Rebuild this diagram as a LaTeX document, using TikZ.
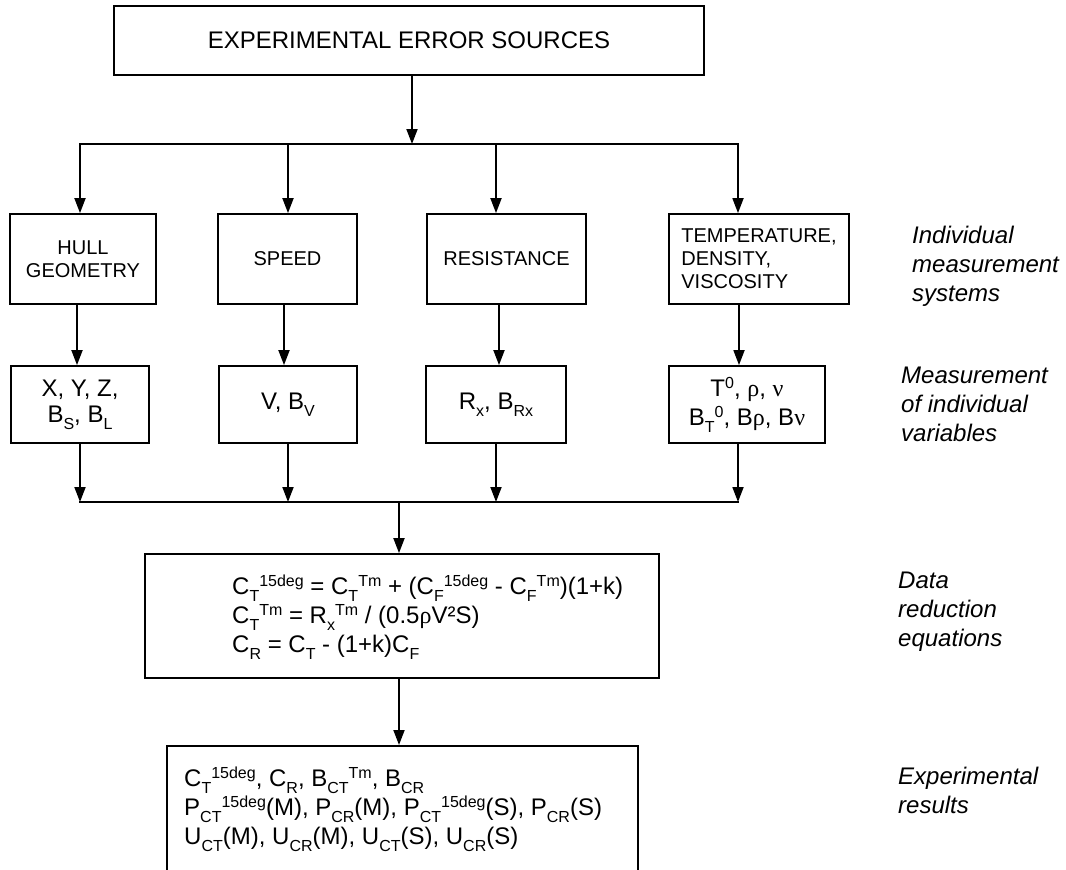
\documentclass[tikz,border=0pt]{standalone}
\usepackage{fontspec}
\setmainfont{Liberation Sans}
\newfontfamily\grk{Liberation Serif}
\usetikzlibrary{arrows.meta}
\newcommand\mysub[1]{\raisebox{-0.28em}{\fontsize{16}{16}\selectfont #1}}
\newcommand\mysup[1]{\raisebox{0.34em}{\fontsize{16}{16}\selectfont #1}}
\newcommand\gr[1]{{\grk #1}}
\begin{document}
\begin{tikzpicture}[x=1pt,y=-1pt,
  ln/.style={line width=1.8pt},
  arr/.style={ln,-{Triangle[length=15pt,width=11pt]}},
  box/.style={draw,ln,inner sep=0pt,align=center},
  big/.style={font=\fontsize{24}{26}\selectfont},
  small/.style={font=\fontsize{20}{23}\selectfont},
  side/.style={font=\fontsize{24}{29}\selectfont\itshape,align=left,anchor=west,inner sep=0pt}]
\useasboundingbox (0,0) rectangle (1066,870);
\clip (0,0) rectangle (1066,870);
% top
\node[box,big,minimum width=590pt,minimum height=69pt] (top) at (409,40.5) {EXPERIMENTAL ERROR SOURCES};
% upper row
\node[box,small,minimum width=146pt,minimum height=90pt] (hull) at (83,259) {HULL\\GEOMETRY};
\node[box,small,minimum width=139pt,minimum height=90pt] (speed) at (287.5,259) {SPEED};
\node[box,small,minimum width=159pt,minimum height=90pt] (resist) at (506.5,259) {RESISTANCE};
\node[box,small,align=left,minimum width=180pt,minimum height=90pt] (temp) at (759,259) {TEMPERATURE,\\DENSITY,\\VISCOSITY};
% lower row
\node[box,big,minimum width=138pt,minimum height=77pt] (xyz) at (80,404.5) {X, Y, Z,\\B\mysub{S}, B\mysub{L}};
\node[box,big,minimum width=138pt,minimum height=77pt] (vel) at (288,404.5) {V, B\mysub{V}};
\node[box,big,minimum width=140pt,minimum height=77pt] (rx) at (496,404.5) {R\mysub{x}, B\mysub{Rx}};
\node[box,big,font=\fontsize{24}{29}\selectfont,minimum width=156pt,minimum height=77pt] (tvar) at (747,404.5) {T\mysup{0}, \gr{ρ}, \gr{ν}\\B\mysub{T}\mysup{0}, B\gr{ρ}, B\gr{ν}};
% equations
\node[box,minimum width=514pt,minimum height=124pt] (eq) at (402,616) {};
\node[big,font=\fontsize{24}{29}\selectfont,align=left,anchor=west,inner sep=0pt] (eqtext) at (232,617) {C\mysub{T}\mysup{15deg} = C\mysub{T}\mysup{Tm} + (C\mysub{F}\mysup{15deg} - C\mysub{F}\mysup{Tm})(1+k)\\
C\mysub{T}\mysup{Tm} = R\mysub{x}\mysup{Tm} / (0.5\gr{ρ}V²S)\\
C\mysub{R} = C\mysub{T} - (1+k)C\mysub{F}};
% results
\node[box,anchor=north,minimum width=471pt,minimum height=220pt] (res) at (402.5,745) {};
\node[font=\fontsize{24}{29}\selectfont,align=left,anchor=west,inner sep=0pt] (restext) at (184,809) {C\mysub{T}\mysup{15deg}, C\mysub{R}, B\mysub{CT}\mysup{Tm}, B\mysub{CR}\\
P\mysub{CT}\mysup{15deg}(M), P\mysub{CR}(M), P\mysub{CT}\mysup{15deg}(S), P\mysub{CR}(S)\\
U\mysub{CT}(M), U\mysub{CR}(M), U\mysub{CT}(S), U\mysub{CR}(S)};
% side labels
\node[side] (l1) at (912,266) {Individual\\measurement\\systems};
\node[side] (l2) at (901,404) {Measurement\\of individual\\variables};
\node[side] (l3) at (898,612) {Data\\reduction\\equations};
\node[side] (l4) at (898,790) {Experimental\\results};
% branch
\coordinate (b1) at (80,144);
\coordinate (b2) at (288,144);
\coordinate (b3) at (496,144);
\coordinate (b4) at (738,144);
\draw[ln,line cap=rect] (b1) -- (b4);
\draw[arr] ([xshift=3pt]top.south) -- ([xshift=3pt]top.south |- b1);
\draw[arr] (b1) -- (b1 |- hull.north);
\draw[arr] (b2) -- (b2 |- speed.north);
\draw[arr] (b3) -- (b3 |- resist.north);
\draw[arr] (b4) -- (b4 |- temp.north);
% upper to lower
\draw[arr] ([xshift=-6pt]hull.south) -- ([xshift=-6pt]hull.south |- xyz.north);
\draw[arr] ([xshift=-3.5pt]speed.south) -- ([xshift=-3.5pt]speed.south |- vel.north);
\draw[arr] ([xshift=-7.5pt]resist.south) -- ([xshift=-7.5pt]resist.south |- rx.north);
\draw[arr] ([xshift=-20pt]temp.south) -- ([xshift=-20pt]temp.south |- tvar.north);
% merge
\coordinate (m1) at (80,502);
\coordinate (m2) at (288,502);
\coordinate (m3) at (496,502);
\coordinate (m4) at (738,502);
\coordinate (mc) at (399,502);
\draw[ln,line cap=rect] (m1) -- (m4);
\draw[arr] (xyz.south) -- (m1);
\draw[arr] (vel.south) -- (m2);
\draw[arr] (rx.south) -- (m3);
\draw[arr] ([xshift=-9pt]tvar.south) -- (m4);
\draw[arr] (mc) -- (mc |- eq.north);
\draw[arr] (mc |- eq.south) -- (mc |- res.north);
\end{tikzpicture}
\end{document}
